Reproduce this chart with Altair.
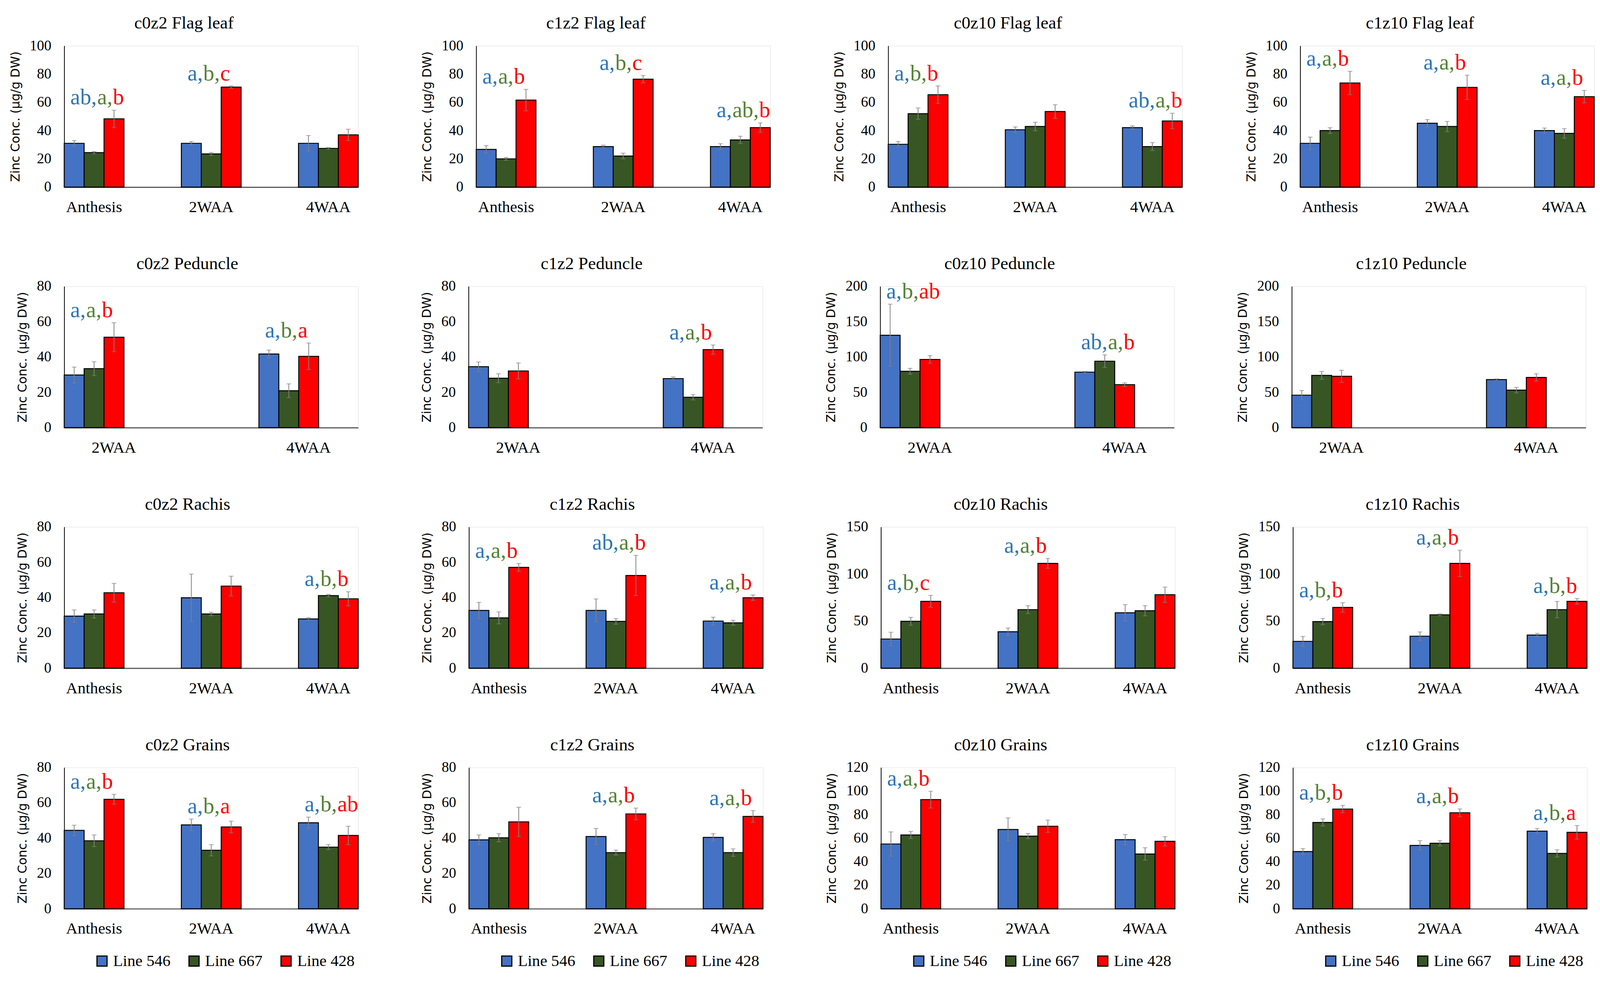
import altair as alt
import pandas as pd

LINES = ["Line 546", "Line 667", "Line 428"]
BAR_COLORS = ["#4472C4", "#375623", "#FF0000"]
TEXT_COLORS = ["#2E75B6", "#548235", "#FF0000"]
STAGES3 = ["Anthesis", "2WAA", "4WAA"]
STAGES2 = ["2WAA", "4WAA"]
Y_TITLE = "Zinc Conc. (µg/g DW)"

# ---- Flag leaf (per stage: [Line 546, Line 667, Line 428]) ----
FLAG_C0Z2_MEAN = [[31.0, 24.4, 48.3], [31.0, 23.5, 70.8], [31.0, 27.4, 37.0]]
FLAG_C0Z2_ERR = [[1.9, 0.8, 6.2], [1.3, 1.0, 0.8], [5.5, 0.6, 4.0]]
FLAG_C0Z2_LET = [["ab", "a", "b"], ["a", "b", "c"], None]

FLAG_C1Z2_MEAN = [[26.7, 20.0, 61.6], [28.7, 22.0, 76.4], [28.7, 33.4, 42.1]]
FLAG_C1Z2_ERR = [[2.6, 1.0, 7.6], [1.0, 2.0, 2.6], [2.0, 2.6, 3.3]]
FLAG_C1Z2_LET = [["a", "a", "b"], ["a", "b", "c"], ["a", "ab", "b"]]

FLAG_C0Z10_MEAN = [[30.3, 52.0, 65.4], [40.6, 42.9, 53.5], [42.1, 28.7, 46.8]]
FLAG_C0Z10_ERR = [[2.0, 4.0, 6.2], [2.0, 3.0, 4.8], [1.2, 2.8, 5.5]]
FLAG_C0Z10_LET = [["a", "b", "b"], None, ["ab", "a", "b"]]

FLAG_C1Z10_MEAN = [[31.0, 40.0, 73.7], [45.2, 42.9, 70.6], [40.0, 38.0, 64.0]]
FLAG_C1Z10_ERR = [[4.4, 2.0, 8.3], [2.6, 3.6, 8.6], [1.8, 3.4, 4.4]]
FLAG_C1Z10_LET = [["a", "a", "b"], ["a", "a", "b"], ["a", "a", "b"]]

# ---- Peduncle ----
PED_C0Z2_MEAN = [[29.8, 33.4, 51.2], [41.7, 20.9, 40.4]]
PED_C0Z2_ERR = [[4.5, 3.9, 8.2], [2.2, 3.9, 7.5]]
PED_C0Z2_LET = [["a", "a", "b"], ["a", "b", "a"]]

PED_C1Z2_MEAN = [[34.5, 28.0, 32.1], [27.8, 17.2, 44.2]]
PED_C1Z2_ERR = [[2.7, 2.5, 4.5], [0.9, 1.5, 2.6]]
PED_C1Z2_LET = [None, ["a", "a", "b"]]

PED_C0Z10_MEAN = [[130.8, 79.8, 96.6], [78.6, 94.1, 60.9]]
PED_C0Z10_ERR = [[44.0, 4.2, 5.4], [1.0, 8.9, 2.5]]
PED_C0Z10_LET = [["a", "b", "ab"], ["ab", "a", "b"]]

PED_C1Z10_MEAN = [[46.0, 74.0, 72.7], [68.0, 53.1, 71.1]]
PED_C1Z10_ERR = [[6.6, 5.6, 8.5], [1.0, 3.9, 5.2]]
PED_C1Z10_LET = [None, None]

# ---- Rachis ----
RAC_C0Z2_MEAN = [[29.5, 30.7, 42.7], [39.9, 30.7, 46.5], [27.9, 41.1, 39.3]]
RAC_C0Z2_ERR = [[3.5, 2.3, 5.3], [13.4, 1.0, 5.6], [0.7, 0.7, 4.0]]
RAC_C0Z2_LET = [None, None, ["a", "b", "b"]]

RAC_C1Z2_MEAN = [[32.7, 28.5, 57.1], [32.7, 26.5, 52.5], [26.7, 25.7, 39.9]]
RAC_C1Z2_ERR = [[4.6, 3.4, 2.2], [6.5, 1.6, 11.4], [2.2, 1.4, 1.6]]
RAC_C1Z2_LET = [["a", "a", "b"], ["ab", "a", "b"], ["a", "a", "b"]]

RAC_C0Z10_MEAN = [[31.0, 49.8, 71.0], [38.7, 62.2, 111.3], [58.8, 61.0, 78.0]]
RAC_C0Z10_ERR = [[7.2, 4.2, 6.3], [4.0, 4.2, 5.2], [8.7, 5.4, 8.2]]
RAC_C0Z10_LET = [["a", "b", "c"], ["a", "a", "b"], None]

RAC_C1Z10_MEAN = [[28.5, 49.5, 64.5], [34.0, 56.7, 111.3], [35.2, 62.2, 71.0]]
RAC_C1Z10_ERR = [[5.2, 3.3, 5.0], [4.5, 1.0, 14.0], [1.8, 8.7, 3.0]]
RAC_C1Z10_LET = [["a", "b", "b"], ["a", "a", "b"], ["a", "b", "b"]]

# ---- Grains ----
GRA_C0Z2_MEAN = [[44.4, 38.5, 62.0], [47.5, 33.1, 46.3], [48.7, 34.9, 41.5]]
GRA_C0Z2_ERR = [[2.9, 3.3, 2.8], [3.3, 3.2, 3.3], [3.2, 1.4, 5.2]]
GRA_C0Z2_LET = [["a", "a", "b"], ["a", "b", "a"], ["a", "b", "ab"]]

GRA_C1Z2_MEAN = [[39.0, 40.2, 49.2], [40.9, 31.8, 53.7], [40.4, 31.8, 52.3]]
GRA_C1Z2_ERR = [[2.8, 2.3, 8.3], [4.6, 1.4, 3.3], [2.1, 2.1, 3.3]]
GRA_C1Z2_LET = [None, ["a", "a", "b"], ["a", "a", "b"]]

GRA_C0Z10_MEAN = [[55.0, 62.7, 92.7], [67.3, 61.7, 70.1], [58.7, 46.5, 57.3]]
GRA_C0Z10_ERR = [[10.3, 3.0, 7.1], [9.9, 2.2, 5.2], [4.4, 5.3, 4.0]]
GRA_C0Z10_LET = [["a", "a", "b"], None, None]

GRA_C1Z10_MEAN = [[48.6, 73.3, 84.7], [53.8, 55.6, 81.5], [65.9, 47.0, 64.9]]
GRA_C1Z10_ERR = [[2.5, 3.0, 3.1], [4.0, 2.2, 3.3], [2.2, 3.1, 5.8]]
GRA_C1Z10_LET = [["a", "b", "b"], ["a", "a", "b"], ["a", "b", "a"]]

SERIF = "Liberation Serif"
SANS = "DejaVu Sans"
W, H = 770, 370
LETTER_SIZE = 58
# advance widths (em) of Liberation Serif glyphs used in the letter labels
GLYPH_EM = {"a": 0.444, "b": 0.5, "c": 0.444, ",": 0.25}


def text_width(s):
    return sum(GLYPH_EM[ch] for ch in s) * LETTER_SIZE


def panel(title, stages, means, errs, letters, ymax, step, legend):
    recs = []
    for si, st in enumerate(stages):
        for li, ln in enumerate(LINES):
            m = means[si][li]
            e = errs[si][li]
            recs.append({"stage": st, "line": ln, "value": m, "lo": m - e, "hi": m + e})
    df = pd.DataFrame(recs)

    x_axis = alt.Axis(labelAngle=0, ticks=False, tickSize=0, labelPadding=32,
                      labelFont=SERIF, labelFontSize=42, labelColor="black",
                      domainColor="#595959", domainWidth=3)
    x = alt.X("stage:N", sort=stages, title=None,
              scale=alt.Scale(domain=stages, paddingInner=0.49, paddingOuter=0),
              axis=x_axis)
    xo = alt.XOffset("line:N", sort=LINES,
                     scale=alt.Scale(domain=LINES, paddingInner=0, paddingOuter=0))
    yscale = alt.Scale(domain=[0, ymax], nice=False, zero=True)
    y_axis = alt.Axis(values=list(range(0, ymax + 1, step)), grid=False, ticks=False,
                      tickSize=0, labelPadding=34, labelFont=SERIF, labelFontSize=38,
                      labelColor="black", domainColor="black", domainWidth=2,
                      titleFont=SANS, titleFontSize=32, titleFontWeight="normal",
                      titleColor="black", titlePadding=20)

    def Y(field):
        return alt.Y(field, scale=yscale, axis=y_axis, title=Y_TITLE)

    if legend:
        leg = alt.Legend(orient="none", legendX=78, legendY=486, direction="horizontal",
                         title=None, symbolType="square", symbolSize=700,
                         symbolStrokeColor="black", symbolStrokeWidth=3,
                         labelFont=SERIF, labelFontSize=42, labelColor="black",
                         columnPadding=40, labelOffset=8)
    else:
        leg = None
    color = alt.Color("line:N", sort=LINES,
                      scale=alt.Scale(domain=LINES, range=BAR_COLORS), legend=leg)

    base = alt.Chart(df)
    bars = base.mark_bar(stroke="black", strokeWidth=2.5).encode(
        x=x, xOffset=xo, y=Y("value:Q"), color=color)
    rule = base.mark_rule(color="#808080", strokeWidth=2).encode(
        x=x, xOffset=xo, y=Y("lo:Q"), y2="hi:Q")
    cap_hi = base.mark_tick(color="#808080", thickness=2, size=12).encode(
        x=x, xOffset=xo, y=Y("hi:Q"))
    cap_lo = base.mark_tick(color="#808080", thickness=2, size=12).encode(
        x=x, xOffset=xo, y=Y("lo:Q"))
    layers = [bars, rule, cap_hi, cap_lo]

    # significance letters: three coloured parts laid out left to right,
    # starting just left of the centre of the Line 546 bar
    for si, st in enumerate(stages):
        L = letters[si]
        if not L:
            continue
        top = max(means[si][i] + errs[si][i] for i in range(3))
        parts = [L[0] + ",", L[1] + ",", L[2]]
        dx = -10.0
        for pi, part in enumerate(parts):
            pdf = pd.DataFrame([{"stage": st, "line": LINES[0],
                                 "ly": top + 0.04 * ymax, "txt": part}])
            layers.append(alt.Chart(pdf).mark_text(
                align="left", baseline="alphabetic", font=SERIF, fontSize=LETTER_SIZE,
                color=TEXT_COLORS[pi], dx=round(dx, 1)).encode(
                x=x, xOffset=xo, y=Y("ly:Q"), text="txt:N"))
            dx += text_width(part) + 1

    return alt.layer(*layers).properties(
        width=W, height=H,
        title=alt.TitleParams(title, font=SERIF, fontSize=46, fontWeight="normal",
                              color="black", anchor="middle", frame="bounds", offset=16))


rows = [
    [panel("c0z2 Flag leaf", STAGES3, FLAG_C0Z2_MEAN, FLAG_C0Z2_ERR, FLAG_C0Z2_LET, 100, 20, False),
     panel("c1z2 Flag leaf", STAGES3, FLAG_C1Z2_MEAN, FLAG_C1Z2_ERR, FLAG_C1Z2_LET, 100, 20, False),
     panel("c0z10 Flag leaf", STAGES3, FLAG_C0Z10_MEAN, FLAG_C0Z10_ERR, FLAG_C0Z10_LET, 100, 20, False),
     panel("c1z10 Flag leaf", STAGES3, FLAG_C1Z10_MEAN, FLAG_C1Z10_ERR, FLAG_C1Z10_LET, 100, 20, False)],
    [panel("c0z2 Peduncle", STAGES2, PED_C0Z2_MEAN, PED_C0Z2_ERR, PED_C0Z2_LET, 80, 20, False),
     panel("c1z2 Peduncle", STAGES2, PED_C1Z2_MEAN, PED_C1Z2_ERR, PED_C1Z2_LET, 80, 20, False),
     panel("c0z10 Peduncle", STAGES2, PED_C0Z10_MEAN, PED_C0Z10_ERR, PED_C0Z10_LET, 200, 50, False),
     panel("c1z10 Peduncle", STAGES2, PED_C1Z10_MEAN, PED_C1Z10_ERR, PED_C1Z10_LET, 200, 50, False)],
    [panel("c0z2 Rachis", STAGES3, RAC_C0Z2_MEAN, RAC_C0Z2_ERR, RAC_C0Z2_LET, 80, 20, False),
     panel("c1z2 Rachis", STAGES3, RAC_C1Z2_MEAN, RAC_C1Z2_ERR, RAC_C1Z2_LET, 80, 20, False),
     panel("c0z10 Rachis", STAGES3, RAC_C0Z10_MEAN, RAC_C0Z10_ERR, RAC_C0Z10_LET, 150, 50, False),
     panel("c1z10 Rachis", STAGES3, RAC_C1Z10_MEAN, RAC_C1Z10_ERR, RAC_C1Z10_LET, 150, 50, False)],
    [panel("c0z2 Grains", STAGES3, GRA_C0Z2_MEAN, GRA_C0Z2_ERR, GRA_C0Z2_LET, 80, 20, True),
     panel("c1z2 Grains", STAGES3, GRA_C1Z2_MEAN, GRA_C1Z2_ERR, GRA_C1Z2_LET, 80, 20, True),
     panel("c0z10 Grains", STAGES3, GRA_C0Z10_MEAN, GRA_C0Z10_ERR, GRA_C0Z10_LET, 120, 20, True),
     panel("c1z10 Grains", STAGES3, GRA_C1Z10_MEAN, GRA_C1Z10_ERR, GRA_C1Z10_LET, 120, 20, True)],
]

hrows = [alt.hconcat(*r, spacing=162).resolve_scale(color="independent") for r in rows]
chart = alt.vconcat(*hrows, spacing=103).resolve_scale(color="independent").properties(
    padding={"left": 15, "top": 0, "right": 5, "bottom": 0}
).configure_view(strokeWidth=0).configure(background="white")

chart.save("out.html", embed_options={"renderer": "svg", "actions": False})
